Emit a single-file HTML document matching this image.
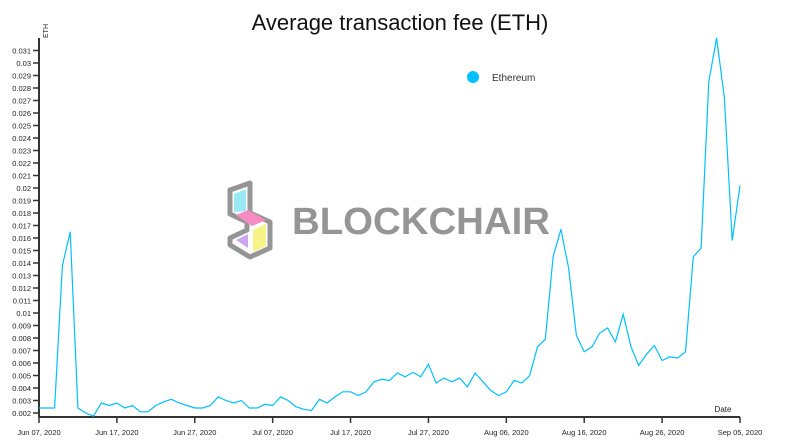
<!DOCTYPE html>
<html><head><meta charset="utf-8"><style>
html,body{margin:0;padding:0;background:#fff;}
svg{display:block;font-family:"Liberation Sans",sans-serif;}
</style></head><body>
<svg id="chart" width="800" height="447">
<text x="400" y="30" text-anchor="middle" font-size="22" fill="#111">Average transaction fee (ETH)</text>
<g opacity="0.9">
  <polygon points="230,190 250,183 250,213 270,222 270,248 250,257 230,245 230,238 247,230 247,222 230,214" fill="none" stroke="#8a8a8a" stroke-width="5" stroke-linejoin="round"/>
  <polygon points="234,194 246,189 246,211 234,212" fill="#8ee8f5"/>
  <polygon points="236,215 248,210 266,220 252,226" fill="#f77fbe"/>
  <polygon points="253,230 266,224 266,246 253,252" fill="#f7f27c"/>
  <polygon points="236,240 248,234 248,248" fill="#c99cf0"/>
  <text x="292" y="234" font-size="38" font-weight="bold" fill="#8a8a8a" textLength="258" lengthAdjust="spacingAndGlyphs">BLOCKCHAIR</text>
</g>
<g id="axes"></g>
<g id="series"></g>
<g>
  <circle cx="473" cy="77" r="6" fill="#00c0ff"/>
  <text x="492" y="81" font-size="10" fill="#333">Ethereum</text>
</g>
<text x="48" y="38" font-size="7" fill="#222" transform="rotate(-90 48 38)">ETH</text>
<text x="723" y="412" font-size="8" fill="#222" text-anchor="middle">Date</text>
</svg>
<script>
const values = [0.0024,0.0024,0.0024,0.0138,0.0165,0.0024,0.0020,0.00175,0.0028,0.0026,
0.0028,0.0024,0.0026,0.0021,0.0021,0.0026,0.0029,0.0031,0.0028,0.0026,
0.0024,0.0024,0.0026,0.0033,0.0030,0.0028,0.0030,0.0024,0.0024,0.0027,
0.0026,0.0033,0.0030,0.0025,0.0023,0.0022,0.0031,0.0028,0.0033,0.0037,
0.0037,0.0034,0.0037,0.0045,0.0047,0.0046,0.0052,0.0049,0.00525,0.0049,
0.0059,0.0044,0.0048,0.0045,0.0048,0.0041,0.0052,0.0045,0.0038,0.0034,
0.0037,0.0046,0.0044,0.0050,0.0073,0.0079,0.0145,0.0167,0.0136,0.0082,
0.0069,0.0073,0.0084,0.0088,0.0077,0.0099,0.0073,0.0058,0.0067,0.0074,
0.0062,0.0065,0.0064,0.0069,0.0145,0.0152,0.0285,0.0320,0.0272,0.0158,0.0202];
const startDay = 0; // index 0 = Jun 07, 2020
const yTicks = [0.002,0.003,0.004,0.005,0.006,0.007,0.008,0.009,0.01,0.011,0.012,0.013,0.014,0.015,0.016,0.017,0.018,0.019,0.02,0.021,0.022,0.023,0.024,0.025,0.026,0.027,0.028,0.029,0.03,0.031];
const xTickDays = [0,10,20,30,40,50,60,70,80,90];
const xTickLabels = ["Jun 07, 2020","Jun 17, 2020","Jun 27, 2020","Jul 07, 2020","Jul 17, 2020","Jul 27, 2020","Aug 06, 2020","Aug 16, 2020","Aug 26, 2020","Sep 05, 2020"];

const NS="http://www.w3.org/2000/svg";
const x0=39,x1=740,yMin=0.00168,yMax=0.032,yb=417,yt=38;
const X=d=>x0+(d-startDay)/90*(x1-x0);
const Y=v=>yb-(v-yMin)/(yMax-yMin)*(yb-yt);
const axes=document.getElementById('axes');
function mk(tag,attrs,parent){const e=document.createElementNS(NS,tag);for(const k in attrs)e.setAttribute(k,attrs[k]);parent.appendChild(e);return e;}
const ya=mk('line',{x1:x0,y1:yt,x2:x0,y2:yb,stroke:'#333','stroke-width':2},axes);


const xa=mk('line',{x1:x0,y1:yb,x2:x1,y2:yb,stroke:'#333','stroke-width':2},axes);


yTicks.forEach(v=>{
  const y=Y(v);
  const t=mk('line',{x1:x0-6,y1:y,x2:x0,y2:y,stroke:'#333','stroke-width':1.5},axes);
  
  
  const l=mk('text',{x:x0-8,y:y+3,'font-size':7.5,'text-anchor':'end',fill:'#222'},axes);
  l.textContent=String(v);
  
  
});
xTickDays.forEach((d,i)=>{
  const x=X(d);
  const t=mk('line',{x1:x,y1:yb,x2:x,y2:yb+6,stroke:'#333','stroke-width':1.5},axes);
  
  
  const l=mk('text',{x:x,y:435,'font-size':7.5,'text-anchor':'middle',fill:'#222'},axes);
  l.textContent=xTickLabels[i];
  
  
});
const pts=values.map((v,i)=>X(startDay+i).toFixed(1)+','+Y(v).toFixed(1)).join(' ');
const line=mk('polyline',{points:pts,fill:'none',stroke:'#00c0ff','stroke-width':1.2},document.getElementById('series'));


</script>
</body></html>
